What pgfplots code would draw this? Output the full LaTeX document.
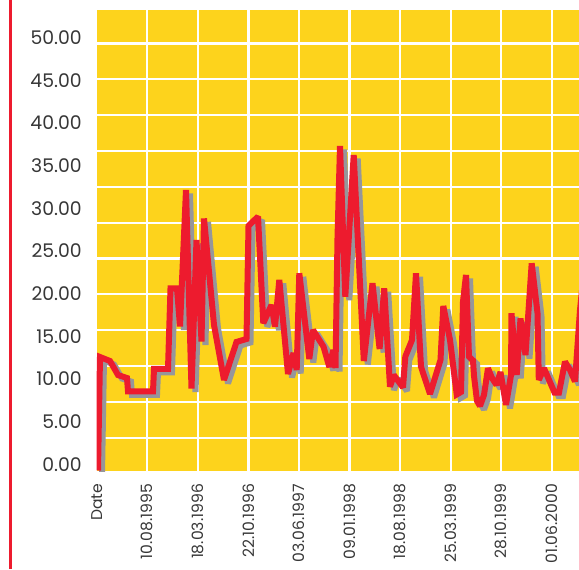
\documentclass[border=0pt]{standalone}
\usepackage{pgfplots}
\pgfplotsset{compat=1.18}
\usepackage{pgfplotstable}
\usepackage{fontspec}
\setmainfont{Poppins}
\definecolor{bgyellow}{RGB}{253,211,28}
\definecolor{linered}{RGB}{237,27,46}
\definecolor{shadowgray}{RGB}{150,150,155}
\definecolor{txt}{RGB}{55,55,55}

\pgfplotstableread{
x y
98 0
100 13.29
110 12.82
118 11.18
127 10.83
128 9.25
153 9.25
154 11.89
168 11.89
170.5 21.31
177 21.31
180 16.86
186 32.85
191.5 9.60
196.5 26.99
201.5 15.11
204 29.51
214 17.04
224 10.60
236.5 15.05
246.5 15.40
248.5 28.63
258 29.74
263.3 17.24
271.5 19.38
275 16.84
279.3 22.31
288 11.30
293.5 13.76
296.7 11.77
299.3 23.09
309.3 13.06
313 16.45
323.5 14.50
329.3 12.12
333.3 14.11
335.5 12.00
337.5 27.22
340 38.00
345.3 20.35
353.7 36.94
363.8 12.82
372.5 21.92
379.6 14.23
384.2 21.33
390 9.81
393.8 11.18
403 9.72
405.3 13.33
412 15.28
416 23.09
421 12.15
430 8.96
440.5 12.94
443.3 19.26
450 15.28
456.7 8.90
461 9.19
463 19.77
466 22.89
469 13.33
473 12.88
474 11.07
477 8.14
480 7.55
484 8.84
488 11.97
492 10.83
496.5 10.01
500.5 11.53
506 7.67
511 11.18
511.5 18.41
516.7 11.18
520.5 17.80
525.5 13.52
531.7 24.26
537.5 18.44
538.8 10.60
544 11.97
554.5 9.13
559 9.13
565 12.74
570 11.77
575 10.42
580 18.79
585 24.60
}\data

\begin{document}
\begin{tikzpicture}
\useasboundingbox (0,0) rectangle (289.5pt,284.5pt);
\draw[linered, line width=1.25pt] (5.25pt,0) -- (5.25pt,284.5pt);
\begin{axis}[
  at={(48.375pt,49pt)}, anchor=south west,
  scale only axis, width=241.125pt, height=230.5pt,
  xmin=96.75, xmax=579, ymin=-0.06, ymax=53.92,
  axis background/.style={fill=bgyellow},
  axis line style={draw=none},
  major tick length=0pt,
  xtick={147.3,197.85,248.4,298.95,349.5,400.05,450.6,501.15,551.7},
  xticklabels={10.08.1995,18.03.1996,22.10.1996,03.06.1997,09.01.1998,18.08.1998,25.03.1999,28.10.1999,01.06.2000},
  extra x ticks={96.75}, extra x tick labels={Date},
  extra x tick style={grid=none},
  xmajorgrids=true,
  ytick={0,5,10,15,20,25,30,35,40,45,50},
  yticklabels={0.00,5.00,10.00,15.00,20.00,25.00,30.00,35.00,40.00,45.00,50.00},
  ymajorgrids=false,
  extra y ticks={3.84,8.04,12.23,16.43,20.62,24.82,29.02,33.21,37.41,41.60,45.80,50.00},
  extra y tick labels={},
  extra y tick style={grid=major},
  grid style={white, line width=1.1pt},
  yticklabel style={font=\fontsize{9.4}{10}\selectfont, text=txt, yshift=3pt, xshift=-4pt},
  xticklabel style={yshift=-3pt, rotate=90, anchor=east, font=\fontsize{7.8}{8.5}\selectfont, text=txt},
]
\addplot[shadowgray, line width=3pt, line join=miter, miter limit=2, xshift=2pt, yshift=-1.75pt] table {\data};
\addplot[linered, line width=3pt, line join=miter, miter limit=2] table {\data};
\end{axis}
\end{tikzpicture}
\end{document}
